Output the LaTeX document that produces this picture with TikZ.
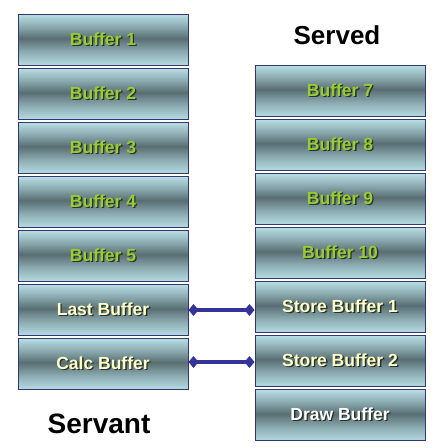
\documentclass[tikz,border=0pt]{standalone}
\usepackage{fontspec}
\setmainfont{Liberation Sans}[BoldFont={Liberation Sans Bold}]
\usetikzlibrary{arrows.meta}
\definecolor{blt}{RGB}{186,223,229}
\definecolor{blb}{RGB}{180,218,225}
\definecolor{bmid}{RGB}{140,172,178}
\definecolor{bdk}{RGB}{88,110,114}
\definecolor{bord}{RGB}{50,55,110}
\definecolor{linkc}{RGB}{51,51,153}
\definecolor{greentxt}{RGB}{153,204,51}
\definecolor{yeltxt}{RGB}{255,255,204}
\definecolor{shadc}{RGB}{40,50,40}
\pgfdeclareverticalshading{bufsh}{100bp}{color(0bp)=(blb); color(25bp)=(blb); color(38bp)=(bmid); color(51bp)=(bdk); color(63bp)=(bmid); color(75bp)=(blt); color(100bp)=(blt)}
\newcommand\shtxt[2]{\makebox[0pt][l]{\hspace{1.4pt}\raisebox{-1.4pt}{\color{shadc}#2}}{\color{#1}#2}}
\tikzset{
  buf/.style={draw=bord, line width=1pt, shading=bufsh, minimum width=170pt, minimum height=51pt, inner sep=0pt,
    font=\fontsize{17.5}{20}\selectfont\bfseries},
  link/.style={draw=linkc, line width=3.5pt, {Diamond[length=10pt,width=12pt]}-{Diamond[length=10pt,width=12pt]}},
  title/.style={font=\bfseries, text=black, inner sep=0pt}
}
\begin{document}
\begin{tikzpicture}[x=1pt,y=-1pt]
\useasboundingbox[fill=white] (0,0) rectangle (444,448);
% left column
\node[buf] (b1) at (103,39.5) {\shtxt{greentxt}{Buffer 1}};
\node[buf] (b2) at (103,93.5) {\shtxt{greentxt}{Buffer 2}};
\node[buf] (b3) at (103,147.5) {\shtxt{greentxt}{Buffer 3}};
\node[buf] (b4) at (103,201.5) {\shtxt{greentxt}{Buffer 4}};
\node[buf] (b5) at (103,255.5) {\shtxt{greentxt}{Buffer 5}};
\node[buf] (last) at (103,309.5) {\shtxt{yeltxt}{Last Buffer}};
\node[buf] (calc) at (103,363.5) {\shtxt{yeltxt}{Calc Buffer}};
% right column
\node[buf] (b7) at (340,90.5) {\shtxt{greentxt}{Buffer 7}};
\node[buf] (b8) at (340,144.5) {\shtxt{greentxt}{Buffer 8}};
\node[buf] (b9) at (340,198.5) {\shtxt{greentxt}{Buffer 9}};
\node[buf] (b10) at (340,252.5) {\shtxt{greentxt}{Buffer 10}};
\node[buf] (sb1) at (340,306.5) {\shtxt{yeltxt}{Store Buffer 1}};
\node[buf] (sb2) at (340,360.5) {\shtxt{yeltxt}{Store Buffer 2}};
\node[buf] (draw) at (340,415) {\shtxt{white}{Draw Buffer}};
% titles
\node[title, font=\fontsize{26}{30}\selectfont\bfseries] (served) at (337,35) {Served};
\node[title, font=\fontsize{28}{32}\selectfont\bfseries] (servant) at (99,424) {Servant};
% links
\draw[link] ([yshift=-0.5pt]last.east) -- ([yshift=-0.5pt]last.east -| sb1.west);
\draw[link] ([yshift=1.5pt]calc.east) -- ([yshift=1.5pt]calc.east -| sb2.west);
\end{tikzpicture}
\end{document}
